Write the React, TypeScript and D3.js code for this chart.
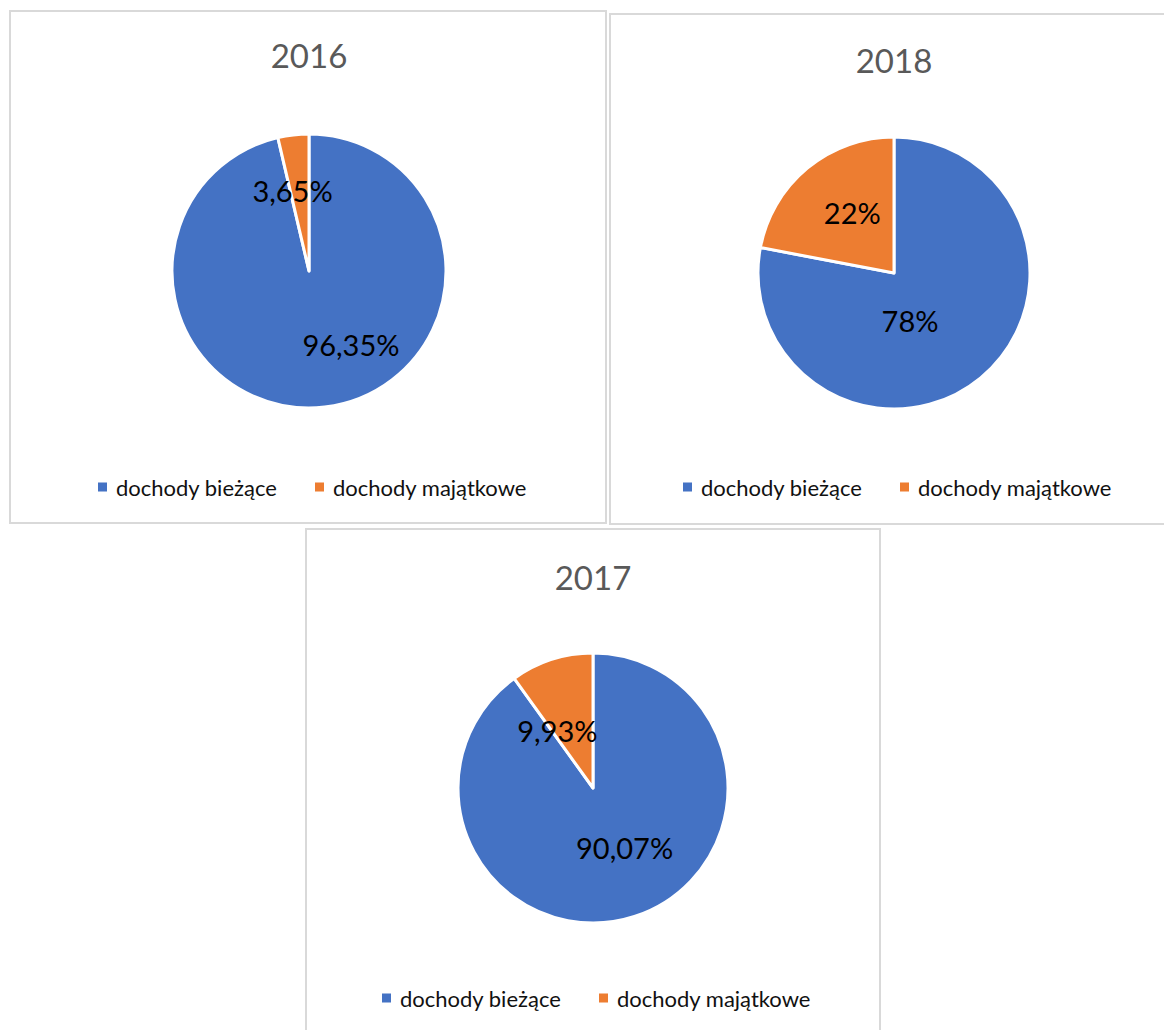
import * as d3 from 'd3';

// categories + values per year
const categories = ['dochody bieżące', 'dochody majątkowe'];
const colors = ['#4472C4', '#ED7D31'];

const values2016 = [96.35, 3.65];
const values2018 = [78, 22];
const values2017 = [90.07, 9.93];

const FONT = 'Lato, "Open Sans", "Noto Sans", sans-serif';

type Panel = {
  title: string;
  values: number[];
  x: number;
  y: number;
  w: number;
  h: number;
  cx: number;
  cy: number;
  r: number;
  titleY: number;
  legendY: number;
  // label placement: angle shift (deg) from slice middle, radius fraction
  labelShift: number[];
  labelRadius: number[];
};

const panels: Panel[] = [
  {
    title: '2016', values: values2016,
    x: 10, y: 11, w: 596, h: 512,
    cx: 309, cy: 271, r: 137, titleY: 55, legendY: 487,
    labelShift: [-23, -5], labelRadius: [0.62, 0.6],
  },
  {
    title: '2018', values: values2018,
    x: 610, y: 14, w: 570, h: 510,
    cx: 894, cy: 273, r: 136, titleY: 60, legendY: 487,
    labelShift: [21, 5], labelRadius: [0.37, 0.54],
  },
  {
    title: '2017', values: values2017,
    x: 306, y: 529, w: 574, h: 520,
    cx: 593, cy: 788, r: 135, titleY: 577, legendY: 998,
    labelShift: [-10, -14], labelRadius: [0.5, 0.5],
  },
];

const fmt = (v: number) => `${String(v).replace('.', ',')}%`;

function PieChart({ p }: { p: Panel }) {
  const pie = d3.pie<number>().sort(null).value((d) => d);
  const arcs = pie(p.values);
  const arc = d3.arc<d3.PieArcDatum<number>>().innerRadius(0).outerRadius(p.r);

  // legend layout, roughly centred under the pie
  const sq = 9;
  const gapText = 9;
  const itemGap = 34;
  const fontSize = 22;
  const widths = categories.map((c) => c.length * fontSize * 0.5);
  const total = d3.sum(widths) + categories.length * (sq + gapText) + itemGap;

  let lx = p.cx - total / 2;
  const legendItems = categories.map((c, i) => {
    const item = { x: lx, label: c, color: colors[i] };
    lx += sq + gapText + widths[i] + itemGap;
    return item;
  });

  return (
    <g>
      <rect x={p.x} y={p.y} width={p.w} height={p.h} fill="#fff" stroke="#d9d9d9" strokeWidth={2} />
      <text x={p.cx} y={p.titleY} textAnchor="middle" dominantBaseline="central"
        fontFamily={FONT} fontSize={33} fill="#595959">{p.title}</text>
      <g transform={`translate(${p.cx},${p.cy})`}>
        {arcs.map((a, i) => (
          <path key={i} d={arc(a) || ''} fill={colors[i]} stroke="#fff" strokeWidth={3} strokeLinejoin="round" />
        ))}
        {arcs.map((a, i) => {
          const mid = (a.startAngle + a.endAngle) / 2 + (p.labelShift[i] * Math.PI) / 180;
          const rr = p.r * p.labelRadius[i];
          return (
            <text key={i} x={rr * Math.sin(mid)} y={-rr * Math.cos(mid)} textAnchor="middle"
              dominantBaseline="central" fontFamily={FONT} fontSize={29} fill="#000">
              {fmt(a.data)}
            </text>
          );
        })}
      </g>
      {legendItems.map((it, i) => (
        <g key={i}>
          <rect x={it.x} y={p.legendY - sq / 2} width={sq} height={sq} fill={it.color} />
          <text x={it.x + sq + gapText} y={p.legendY} dominantBaseline="central"
            fontFamily={FONT} fontSize={fontSize} fill="#111">{it.label}</text>
        </g>
      ))}
    </g>
  );
}

export default function App() {
  return (
    <div style={{ position: 'absolute', left: 0, top: 0 }}>
      <svg width={1164} height={1030} style={{ display: 'block', background: '#fff' }}>
        {panels.map((p) => (
          <PieChart key={p.title} p={p} />
        ))}
      </svg>
    </div>
  );
}
